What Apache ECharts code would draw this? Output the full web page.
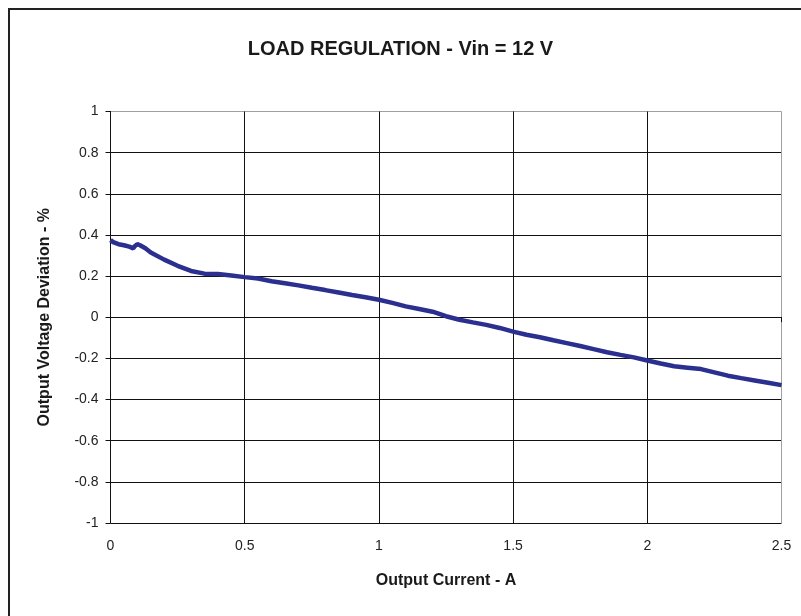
<!DOCTYPE html>
<html lang="en">
  <head>
    <meta charset="UTF-8" />
    <title>Load Regulation</title>
    <style>
      html, body { margin: 0; padding: 0; background: #fff; }
    </style>
  </head>
  <body>
    <div id="main" style="width: 801px; height: 616px"></div>

    <script src="https://cdn.jsdelivr.net/npm/echarts@6/dist/echarts.min.js"></script>
    <script>
      var myChart = echarts.init(document.getElementById("main"), null, {
        renderer: "canvas",
      });

      // 数据 (读自图片)
      var current = [
        0, 0.01, 0.03, 0.05, 0.07, 0.085, 0.09, 0.1, 0.11, 0.13, 0.15, 0.2,
        0.25, 0.3, 0.35, 0.4, 0.45, 0.5, 0.55, 0.6, 0.65, 0.7, 0.75, 0.8, 0.85,
        0.9, 0.95, 1.0, 1.05, 1.1, 1.15, 1.2, 1.25, 1.3, 1.35, 1.4, 1.45, 1.5,
        1.55, 1.6, 1.65, 1.7, 1.75, 1.8, 1.85, 1.9, 1.95, 2.0, 2.05, 2.1, 2.15,
        2.2, 2.25, 2.3, 2.35, 2.4, 2.45, 2.5,
      ];
      var deviation = [
        0.375, 0.365, 0.355, 0.35, 0.343, 0.335, 0.345, 0.355, 0.35, 0.335,
        0.315, 0.28, 0.25, 0.225, 0.212, 0.21, 0.203, 0.195, 0.188, 0.175,
        0.165, 0.155, 0.143, 0.132, 0.12, 0.108, 0.097, 0.085, 0.07, 0.053,
        0.04, 0.027, 0.005, -0.012, -0.025, -0.037, -0.052, -0.07, -0.085,
        -0.097, -0.112, -0.126, -0.14, -0.155, -0.17, -0.183, -0.195, -0.21,
        -0.225, -0.238, -0.245, -0.252, -0.268, -0.284, -0.296, -0.307, -0.318,
        -0.33,
      ];
      var yTicks = [-1, -0.8, -0.6, -0.4, -0.2, 0, 0.2, 0.4, 0.6, 0.8, 1];
      var xTicks = [0, 0.5, 1, 1.5, 2, 2.5];

      var data = current.map(function (c, i) {
        return [c, deviation[i]];
      });

      var font = "Arial, 'Liberation Sans', sans-serif";

      // 最后一条网格线是灰色 (图框)
      var ySplitColors = yTicks.map(function (v, i) {
        return i === yTicks.length - 1 ? "#a0a0a0" : "#111";
      });
      var xSplitColors = xTicks.map(function (v, i) {
        return i === xTicks.length - 1 ? "#a0a0a0" : "#111";
      });

      var option = {
        backgroundColor: "#fff",
        animation: false,
        title: {
          text: "LOAD REGULATION - Vin = 12 V",
          left: "center",
          top: 34,
          textStyle: {
            fontFamily: font,
            fontSize: 20,
            fontWeight: "bold",
            color: "#1a1a1a",
          },
        },
        grid: {
          left: 110.5,
          right: 19.5,
          top: 111.5,
          bottom: 93,
          containLabel: false,
        },
        xAxis: {
          type: "value",
          min: 0,
          max: 2.5,
          interval: 0.5,
          name: "Output Current - A",
          nameLocation: "middle",
          nameGap: 50,
          nameTextStyle: {
            fontFamily: font,
            fontSize: 16,
            fontWeight: "bold",
            color: "#1a1a1a",
          },
          axisLine: { lineStyle: { color: "#111", width: 1 } },
          axisTick: { show: true, inside: false, length: 5, lineStyle: { color: "#111" } },
          axisLabel: {
            margin: 16,
            fontFamily: font,
            fontSize: 14,
            color: "#222",
          },
          splitLine: {
            show: true,
            lineStyle: { color: xSplitColors, width: 1 },
          },
        },
        yAxis: {
          type: "value",
          min: -1,
          max: 1,
          interval: 0.2,
          name: "Output Voltage Deviation - %",
          nameLocation: "middle",
          nameGap: 58,
          nameTextStyle: {
            fontFamily: font,
            fontSize: 16,
            fontWeight: "bold",
            color: "#1a1a1a",
          },
          axisLine: { show: true, lineStyle: { color: "#111", width: 1 } },
          axisTick: { show: true, inside: false, length: 5, lineStyle: { color: "#111" } },
          axisLabel: {
            margin: 12,
            fontFamily: font,
            fontSize: 14,
            color: "#222",
          },
          splitLine: {
            show: true,
            lineStyle: { color: ySplitColors, width: 1 },
          },
        },
        graphic: [
          {
            type: "rect",
            shape: { x: 9, y: 9, width: 900, height: 900 },
            style: { fill: null, stroke: "#222", lineWidth: 2 },
            silent: true,
          },
        ],
        series: [
          {
            type: "line",
            data: data,
            showSymbol: false,
            smooth: false,
            lineStyle: { color: "#2b2f8f", width: 4.5 },
            z: 5,
          },
        ],
      };
      myChart.setOption(option);
    </script>
  </body>
</html>
